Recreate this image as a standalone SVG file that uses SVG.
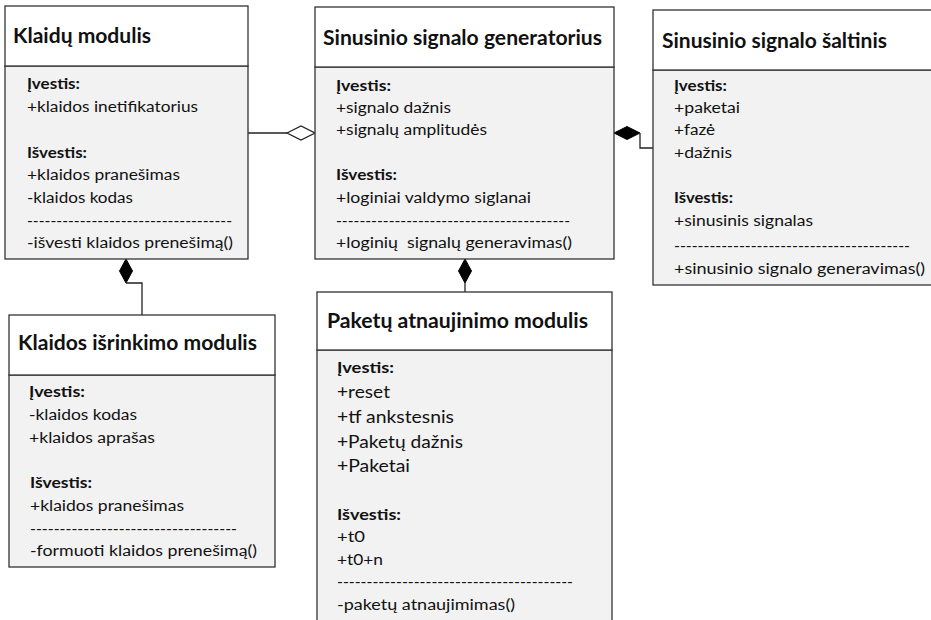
<svg xmlns="http://www.w3.org/2000/svg" width="931" height="620" viewBox="0 0 931 620">
  <style>
    .head { fill: #ffffff; stroke: #333333; stroke-width: 1.3; }
    .body { fill: #f2f2f2; stroke: #333333; stroke-width: 1.3; }
    text { font-family: Lato, "Noto Sans", "Liberation Sans", sans-serif; fill: #111111; }
    .title { font-size: 20.5px; font-weight: bold; }
    .lbl { font-size: 15.5px; font-weight: bold; }
    .item { font-size: 15.5px; }
    .item-lg { font-size: 17.5px; }
    .wire { fill: none; stroke: #222222; stroke-width: 1.3; }
    .solid { fill: #000000; stroke: #000000; stroke-width: 1; }
    .hollow { fill: #ffffff; stroke: #222222; stroke-width: 1.3; }
  </style>

  <!-- Connectors -->
  <g id="connectors">
    <!-- Klaidų modulis to generator (aggregation) -->
    <line class="wire" x1="248" y1="133" x2="287" y2="133"/>
    <polygon class="hollow" points="287,133 301,126 315,133 301,140"/>
    <!-- source to generator (composition) -->
    <polygon class="solid" points="614,133 627,126.5 640,133 627,139.5"/>
    <polyline class="wire" points="640,133 640,148 653,148"/>
    <!-- selection module to Klaidų modulis (composition) -->
    <polygon class="solid" points="126,259 132.5,271 126,283 119.5,271"/>
    <polyline class="wire" points="126,283 142,283 142,315"/>
    <!-- packet module to generator (composition) -->
    <polygon class="solid" points="465,259 471.5,271 465,283 458.5,271"/>
    <line class="wire" x1="465" y1="283" x2="465" y2="292"/>
  </g>

  <!-- Klaidų modulis -->
  <g id="klaidu-modulis">
    <rect class="body" x="5" y="66" width="243" height="193"/>
    <rect class="head" x="5" y="6" width="243" height="60"/>
    <text class="title" x="13" y="43" textLength="138" lengthAdjust="spacingAndGlyphs">Klaidų modulis</text>
    <text class="lbl" x="27" y="89" textLength="53" lengthAdjust="spacingAndGlyphs">Įvestis:</text>
    <text class="item" x="27" y="112" textLength="171" lengthAdjust="spacingAndGlyphs">+klaidos inetifikatorius</text>
    <text class="lbl" x="27" y="158" textLength="60" lengthAdjust="spacingAndGlyphs">Išvestis:</text>
    <text class="item" x="27" y="180" textLength="153" lengthAdjust="spacingAndGlyphs">+klaidos pranešimas</text>
    <text class="item" x="27" y="203" textLength="106" lengthAdjust="spacingAndGlyphs">-klaidos kodas</text>
    <text class="item" x="27" y="226" textLength="205" lengthAdjust="spacingAndGlyphs">-----------------------------------</text>
    <text class="item" x="27" y="248" textLength="206" lengthAdjust="spacingAndGlyphs">-išvesti klaidos prenešimą()</text>
  </g>

  <!-- Sinusinio signalo generatorius -->
  <g id="generatorius">
    <rect class="body" x="315" y="67" width="299" height="192"/>
    <rect class="head" x="315" y="7" width="299" height="60"/>
    <text class="title" x="323" y="45" textLength="279" lengthAdjust="spacingAndGlyphs">Sinusinio signalo generatorius</text>
    <text class="lbl" x="336" y="91" textLength="55" lengthAdjust="spacingAndGlyphs">Įvestis:</text>
    <text class="item" x="336" y="113" textLength="115" lengthAdjust="spacingAndGlyphs">+signalo dažnis</text>
    <text class="item" x="336" y="135" textLength="151" lengthAdjust="spacingAndGlyphs">+signalų amplitudės</text>
    <text class="lbl" x="336" y="180" textLength="61" lengthAdjust="spacingAndGlyphs">Išvestis:</text>
    <text class="item" x="336" y="203" textLength="195" lengthAdjust="spacingAndGlyphs">+loginiai valdymo siglanai</text>
    <text class="item" x="336" y="226" textLength="234" lengthAdjust="spacingAndGlyphs">----------------------------------------</text>
    <text class="item" x="336" y="248" textLength="236" lengthAdjust="spacingAndGlyphs" xml:space="preserve">+loginių  signalų generavimas()</text>
  </g>

  <!-- Sinusinio signalo šaltinis -->
  <g id="saltinis">
    <rect class="body" x="653" y="70" width="290" height="215"/>
    <rect class="head" x="653" y="10" width="290" height="60"/>
    <text class="title" x="662" y="48" textLength="225" lengthAdjust="spacingAndGlyphs">Sinusinio signalo šaltinis</text>
    <text class="lbl" x="674" y="91" textLength="53" lengthAdjust="spacingAndGlyphs">Įvestis:</text>
    <text class="item" x="674" y="113" textLength="66" lengthAdjust="spacingAndGlyphs">+paketai</text>
    <text class="item" x="674" y="135" textLength="41" lengthAdjust="spacingAndGlyphs">+fazė</text>
    <text class="item" x="674" y="158" textLength="58" lengthAdjust="spacingAndGlyphs">+dažnis</text>
    <text class="lbl" x="674" y="203" textLength="59" lengthAdjust="spacingAndGlyphs">Išvestis:</text>
    <text class="item" x="674" y="226" textLength="139" lengthAdjust="spacingAndGlyphs">+sinusinis signalas</text>
    <text class="item" x="674" y="251" textLength="236" lengthAdjust="spacingAndGlyphs">----------------------------------------</text>
    <text class="item" x="674" y="274" textLength="251" lengthAdjust="spacingAndGlyphs">+sinusinio signalo generavimas()</text>
  </g>

  <!-- Klaidos išrinkimo modulis -->
  <g id="isrinkimo-modulis">
    <rect class="body" x="9" y="375" width="266" height="192"/>
    <rect class="head" x="9" y="315" width="266" height="60"/>
    <text class="title" x="18" y="350" textLength="239" lengthAdjust="spacingAndGlyphs">Klaidos išrinkimo modulis</text>
    <text class="lbl" x="29" y="397" textLength="56" lengthAdjust="spacingAndGlyphs">Įvestis:</text>
    <text class="item" x="29" y="420" textLength="108" lengthAdjust="spacingAndGlyphs">-klaidos kodas</text>
    <text class="item" x="29" y="443" textLength="126" lengthAdjust="spacingAndGlyphs">+klaidos aprašas</text>
    <text class="lbl" x="30" y="488" textLength="62" lengthAdjust="spacingAndGlyphs">Išvestis:</text>
    <text class="item" x="30" y="511" textLength="154" lengthAdjust="spacingAndGlyphs">+klaidos pranešimas</text>
    <text class="item" x="30" y="534" textLength="207" lengthAdjust="spacingAndGlyphs">-----------------------------------</text>
    <text class="item" x="30" y="556" textLength="227" lengthAdjust="spacingAndGlyphs">-formuoti klaidos prenešimą()</text>
  </g>

  <!-- Paketų atnaujinimo modulis -->
  <g id="paketu-modulis">
    <rect class="body" x="317" y="350" width="295" height="290"/>
    <rect class="head" x="317" y="292" width="295" height="58"/>
    <text class="title" x="327" y="328" textLength="261" lengthAdjust="spacingAndGlyphs">Paketų atnaujinimo modulis</text>
    <text class="lbl" x="337" y="373" textLength="57" lengthAdjust="spacingAndGlyphs">Įvestis:</text>
    <text class="item-lg" x="337" y="398" textLength="53" lengthAdjust="spacingAndGlyphs">+reset</text>
    <text class="item-lg" x="337" y="423" textLength="117" lengthAdjust="spacingAndGlyphs">+tf ankstesnis</text>
    <text class="item-lg" x="337" y="448" textLength="126" lengthAdjust="spacingAndGlyphs">+Paketų dažnis</text>
    <text class="item-lg" x="337" y="472" textLength="73" lengthAdjust="spacingAndGlyphs">+Paketai</text>
    <text class="lbl" x="337" y="520" textLength="64" lengthAdjust="spacingAndGlyphs">Išvestis:</text>
    <text class="item" x="337" y="542" textLength="28" lengthAdjust="spacingAndGlyphs">+t0</text>
    <text class="item" x="337" y="565" textLength="46" lengthAdjust="spacingAndGlyphs">+t0+n</text>
    <text class="item" x="337" y="587" textLength="236" lengthAdjust="spacingAndGlyphs">----------------------------------------</text>
    <text class="item" x="337" y="610" textLength="178" lengthAdjust="spacingAndGlyphs">-paketų atnaujimimas()</text>
  </g>
</svg>
